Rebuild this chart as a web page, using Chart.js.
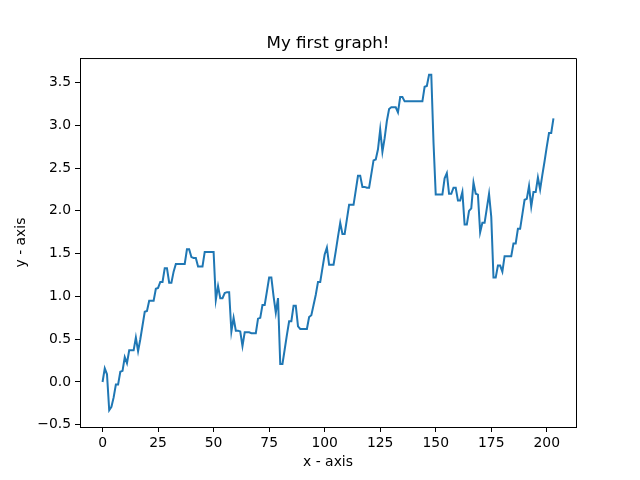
<!DOCTYPE html>
<html>
<head>
<meta charset="utf-8">
<script src="https://cdn.jsdelivr.net/npm/chart.js@4/dist/chart.umd.min.js"></script>
<style>
  html, body { margin: 0; padding: 0; background: #fff; }
  #wrap { width: 640px; height: 480px; }
</style>
</head>
<body>
<div id="wrap"><canvas id="mainChart" width="640" height="480"></canvas></div>
<script>
// values, one per x step (x = 0, 1, 2, ...)
const yValues = [
  0.00, 0.16, 0.09, -0.33, -0.29, -0.18, -0.03, -0.03, 0.12, 0.13,
  0.29, 0.22, 0.37, 0.37, 0.37, 0.52, 0.36, 0.50, 0.66, 0.82,
  0.83, 0.95, 0.95, 0.95, 1.09, 1.10, 1.17, 1.17, 1.33, 1.33,
  1.16, 1.16, 1.29, 1.38, 1.38, 1.38, 1.38, 1.38, 1.55, 1.55,
  1.46, 1.45, 1.45, 1.35, 1.35, 1.35, 1.52, 1.52, 1.52, 1.52,
  1.52, 0.96, 1.12, 0.98, 0.98, 1.04, 1.05, 1.05, 0.59, 0.75,
  0.60, 0.60, 0.59, 0.42, 0.58, 0.58, 0.58, 0.57, 0.57, 0.57,
  0.74, 0.75, 0.90, 0.90, 1.06, 1.22, 1.22, 1.00, 0.81, 0.98,
  0.21, 0.21, 0.38, 0.55, 0.71, 0.71, 0.89, 0.89, 0.65, 0.62,
  0.62, 0.62, 0.62, 0.76, 0.78, 0.90, 1.02, 1.17, 1.17, 1.33,
  1.49, 1.57, 1.37, 1.37, 1.37, 1.53, 1.70, 1.86, 1.73, 1.73,
  1.90, 2.07, 2.07, 2.07, 2.24, 2.41, 2.41, 2.28, 2.28, 2.27,
  2.27, 2.43, 2.59, 2.60, 2.72, 2.95, 2.69, 2.85, 3.05, 3.19,
  3.21, 3.21, 3.21, 3.15, 3.33, 3.33, 3.28, 3.28, 3.28, 3.28,
  3.28, 3.28, 3.28, 3.28, 3.28, 3.45, 3.46, 3.59, 3.59, 2.80,
  2.19, 2.19, 2.19, 2.19, 2.38, 2.44, 2.20, 2.20, 2.27, 2.27,
  2.12, 2.12, 2.22, 1.84, 1.84, 2.00, 2.03, 2.33, 2.20, 2.19,
  1.75, 1.86, 1.86, 2.03, 2.20, 1.93, 1.22, 1.22, 1.36, 1.36,
  1.29, 1.47, 1.47, 1.47, 1.47, 1.62, 1.62, 1.79, 1.79, 1.96,
  2.13, 2.14, 2.29, 2.05, 2.22, 2.22, 2.39, 2.25, 2.42, 2.58,
  2.75, 2.91, 2.91, 3.08
];
const xTicks = [0, 25, 50, 75, 100, 125, 150, 175, 200];
const yTicks = [-0.5, 0, 0.5, 1, 1.5, 2, 2.5, 3, 3.5];

const FONT = 'DejaVu Sans';

// matplotlib style 5% margins around the data
const n = yValues.length - 1;
const yMin = Math.min(...yValues), yMax = Math.max(...yValues);
const xPad = n * 0.05, yPad = (yMax - yMin) * 0.05;

//Top and right spines
const frame = {
  id: 'frame',
  afterDraw(chart) {
    const { ctx, chartArea: a } = chart;
    ctx.save();
    ctx.strokeStyle = '#000';
    ctx.lineWidth = 1;
    ctx.beginPath();
    ctx.moveTo(a.left, a.top + 0.5);
    ctx.lineTo(a.right + 0.5, a.top + 0.5);
    ctx.lineTo(a.right + 0.5, a.bottom);
    ctx.stroke();
    ctx.restore();
  }
};

const ctx = document.getElementById('mainChart').getContext('2d');
new Chart(ctx, {
  type: 'line',
  data: {
    datasets: [{
      label: 'y',
      data: yValues.map((v, i) => ({ x: i, y: v })),
      borderColor: '#1f77b4',
      borderWidth: 2,
      pointRadius: 0,
      tension: 0,
      fill: false
    }]
  },
  options: {
    responsive: false,
    animation: false,
    layout: { padding: { top: 0, right: 64, left: 0, bottom: 0 } },
    plugins: {
      legend: { display: false },
      tooltip: { enabled: false },
      title: {
        display: true,
        text: 'My first graph!',
        fullSize: false,
        color: '#000',
        font: { family: FONT, size: 16.7, weight: 'normal' },
        padding: { top: 34, bottom: 4 }
      }
    },
    scales: {
      x: {
        type: 'linear',
        min: -xPad,
        max: n + xPad,
        afterFit: s => { s.height = 53; },
        afterBuildTicks: s => { s.ticks = xTicks.map(v => ({ value: v })); },
        grid: { drawOnChartArea: false, drawTicks: true, tickLength: 5, color: '#000' },
        border: { color: '#000', width: 1 },
        ticks: {
          color: '#000',
          padding: 3,
          maxRotation: 0,
          font: { family: FONT, size: 13.9 }
        },
        title: {
          display: true,
          text: 'x - axis',
          color: '#000',
          font: { family: FONT, size: 13.9 },
          padding: { top: 0, bottom: 9 }
        }
      },
      y: {
        type: 'linear',
        min: yMin - yPad,
        max: yMax + yPad,
        afterFit: s => { s.width = 80; },
        afterBuildTicks: s => { s.ticks = yTicks.map(v => ({ value: v })); },
        grid: { drawOnChartArea: false, drawTicks: true, tickLength: 5, color: '#000' },
        border: { color: '#000', width: 1 },
        ticks: {
          color: '#000',
          padding: 4,
          font: { family: FONT, size: 13.9 },
          callback: v => v.toFixed(1).replace('-', '\u2212')
        },
        title: {
          display: true,
          text: 'y - axis',
          color: '#000',
          font: { family: FONT, size: 13.9 },
          padding: { top: 13, bottom: 0 }
        }
      }
    }
  },
  plugins: [frame]
});
</script>
</body>
</html>
